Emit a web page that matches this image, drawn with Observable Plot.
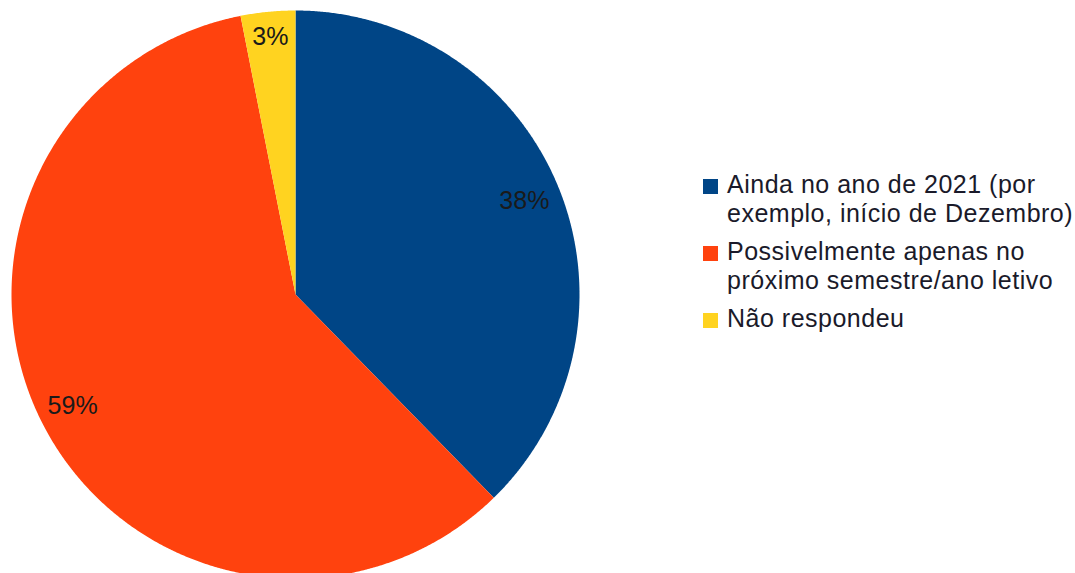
<!DOCTYPE html>
<html>
<head>
<meta charset="utf-8">
<script src="https://cdn.jsdelivr.net/npm/d3@7"></script>
<script src="https://cdn.jsdelivr.net/npm/@observablehq/plot@0.6"></script>
<style>
  html, body { margin: 0; padding: 0; background: #fff; }
  #wrap { position: relative; width: 1075px; height: 573px; overflow: hidden; font-family: "Liberation Sans", Arial, sans-serif; }
  #legend { position: absolute; left: 703px; top: 170px; font-size: 25px; color: #1a1a2a; }
  .item { display: flex; align-items: flex-start; margin-bottom: 9px; }
  .sw { width: 15px; height: 15px; margin-top: 9px; margin-right: 9px; flex: none; }
  .lab { line-height: 29px; white-space: pre; letter-spacing: 0.5px; }
</style>
</head>
<body>
<div id="wrap"></div>
<script>
const categories = ["Ainda no ano de 2021 (por\nexemplo, início de Dezembro)", "Possivelmente apenas no\npróximo semestre/ano letivo", "Não respondeu"];
const values = [37.7, 59.2, 3.1];
const labels = ["38%", "59%", "3%"];
const colors = ["#004586", "#ff420e", "#ffd320"];
const labelRadius = [0.87, 0.877, 0.91];
const labelShift = [0, 0.021, 0];

const arcs = d3.pie().sort(null).value(d => d)(values);
const poly = [];
arcs.forEach((a, i) => {
  poly.push({slice: categories[i], x: 0, y: 0});
  const n = Math.max(4, Math.ceil((a.endAngle - a.startAngle) / 0.005));
  for (let k = 0; k <= n; k++) {
    const t = a.startAngle + (a.endAngle - a.startAngle) * k / n;
    poly.push({slice: categories[i], x: Math.sin(t), y: Math.cos(t)});
  }
  poly.push({slice: categories[i], x: 0, y: 0});
});
const textPts = arcs.map((a, i) => {
  const m = (a.startAngle + a.endAngle) / 2 + labelShift[i];
  return {label: labels[i], x: labelRadius[i] * Math.sin(m), y: labelRadius[i] * Math.cos(m)};
});

const chart = Plot.plot({
  width: 1075,
  height: 573,
  margin: 0,
  x: {domain: [-1, 1], range: [11, 579], axis: null},
  y: {domain: [-1, 1], range: [578, 10], axis: null},
  color: {domain: categories, range: colors},
  marks: [
    Plot.line(poly, {x: "x", y: "y", z: "slice", fill: "slice", stroke: "none", curve: "linear-closed"}),
    Plot.text(textPts, {x: "x", y: "y", text: "label", fontSize: 25, fill: "#1a1a1a", fontFamily: "Liberation Sans, Arial, sans-serif"})
  ]
});
const wrap = document.getElementById("wrap");
wrap.appendChild(chart);

const legend = document.createElement("div");
legend.id = "legend";
categories.forEach((c, i) => {
  const it = document.createElement("div");
  it.className = "item";
  const sw = document.createElement("div");
  sw.className = "sw";
  sw.style.background = colors[i];
  const lb = document.createElement("div");
  lb.className = "lab";
  lb.textContent = c;
  it.appendChild(sw); it.appendChild(lb);
  legend.appendChild(it);
});
wrap.appendChild(legend);
</script>
</body>
</html>
